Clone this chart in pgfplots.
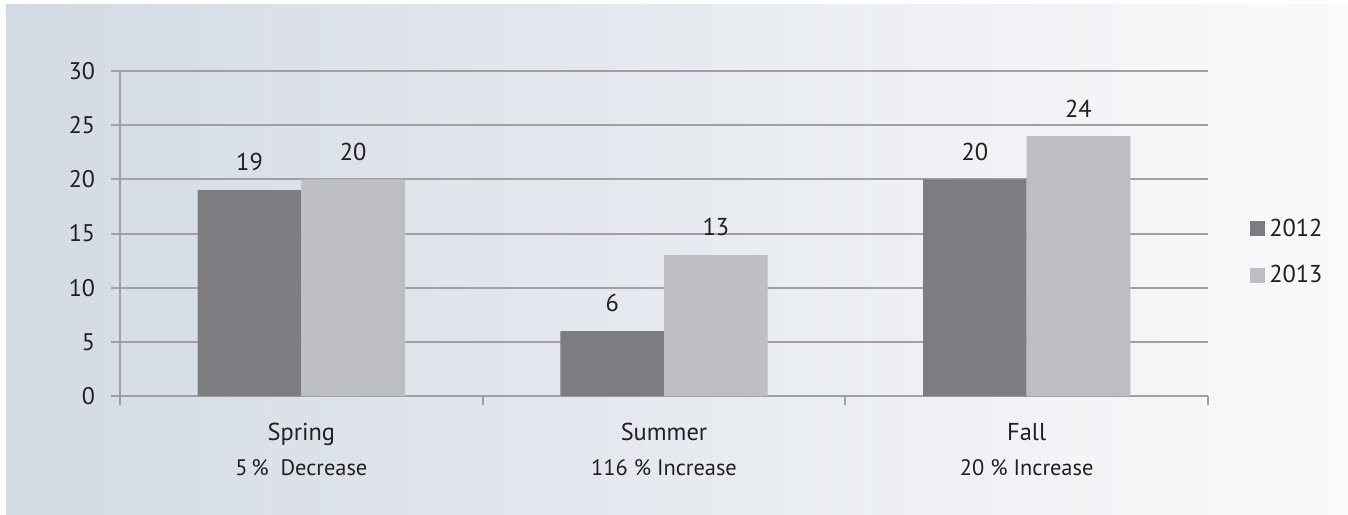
\documentclass[border=0pt]{standalone}
\usepackage{pgfplots}
\pgfplotsset{compat=1.18}
\usepackage{fontspec}
\setmainfont{PT Sans}
\definecolor{bgleft}{RGB}{211,218,228}
\definecolor{bgright}{RGB}{250,250,251}
\definecolor{axgray}{RGB}{160,160,162}
\definecolor{darkbar}{RGB}{124,125,129}
\definecolor{lightbar}{RGB}{189,190,194}
\definecolor{txt}{RGB}{35,31,32}
\begin{document}
\begin{tikzpicture}
\useasboundingbox (-60pt,-59pt) rectangle (614pt,198pt);
\fill[white] (-60pt,-59pt) rectangle (614pt,198pt);
\shade[left color=bgleft, right color=bgright] (-57pt,-59pt) rectangle (614pt,195.5pt);
\begin{axis}[
  at={(0,0)}, anchor=south west,
  scale only axis,
  width=544pt, height=162.5pt,
  xmin=-0.5, xmax=2.5,
  ymin=0, ymax=30,
  ytick={0,5,...,30},
  xtick={-0.5,0.5,1.5,2.5},
  xticklabels={},
  extra x ticks={0,1,2},
  extra x tick labels={Spring\\{\fontsize{11.2}{17.5}\selectfont 5\,\%~~Decrease},Summer\\{\fontsize{11.2}{17.5}\selectfont 116 \% Increase},Fall\\{\fontsize{11.2}{17.5}\selectfont 20 \% Increase}},
  extra x tick style={major tick length=0pt, grid=none,
    tick label style={font=\fontsize{12.2}{17.5}\selectfont, align=center, text=txt, yshift=-10pt}},
  axis x line*=bottom, axis y line*=left,
  x axis line style={-, draw=axgray, line width=1pt},
  y axis line style={-, draw=axgray, line width=1pt},
  tick align=outside,
  major tick length=4.5pt,
  tick style={draw=axgray, line width=1pt},
  ymajorgrids,
  major grid style={draw=axgray, line width=1pt},
  yticklabel style={font=\fontsize{12}{14}\selectfont, text=txt, xshift=-4.5pt},
  /pgf/number format/assume math mode=true,
  ybar=0pt,
  bar width=0.2857,
  nodes near coords,
  every node near coord/.append style={font=\fontsize{12.2}{14}\selectfont, text=txt, anchor=south, inner sep=0pt, yshift=9.25pt},
  legend style={at={(1.033,0.443)}, anchor=west, draw=none, fill=none,
    font=\fontsize{12.2}{14}\selectfont, text=txt, row sep=9pt, legend cell align=left},
  legend image code/.code={\fill[#1] (0pt,-3.75pt) rectangle (7.5pt,3.75pt);},
]
\addplot[fill=darkbar, draw=none, bar shift=-0.142857] coordinates {(0,19) (1,6) (2,20)};
\addplot[fill=lightbar, draw=none, bar shift=0.142857] coordinates {(0,20) (1,13) (2,24)};
\legend{2012,2013}
\end{axis}
\end{tikzpicture}
\end{document}
